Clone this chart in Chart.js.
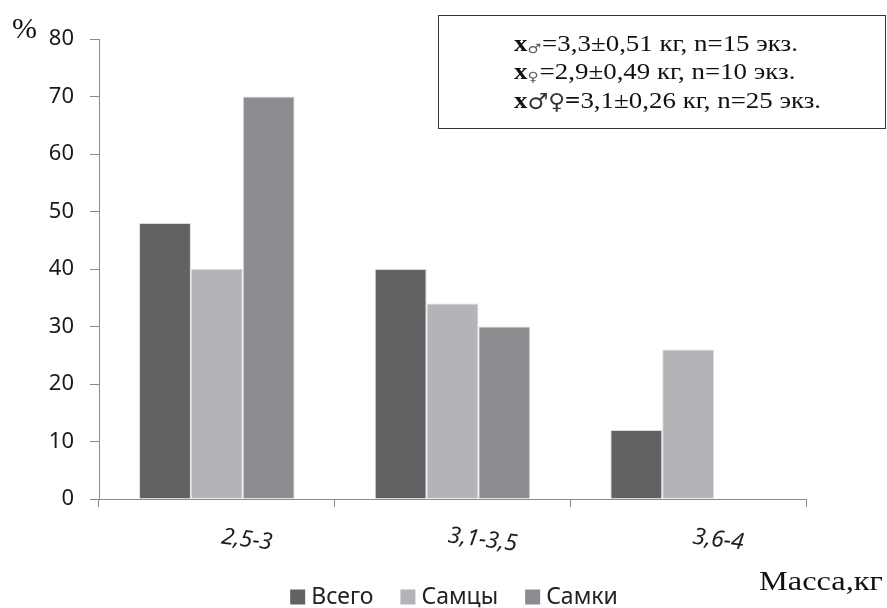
<!DOCTYPE html>
<html lang="ru">
<head>
<meta charset="utf-8">
<title>Распределение по массе</title>
<script src="https://cdn.jsdelivr.net/npm/chart.js@4/dist/chart.umd.min.js"></script>
<style>
  html, body { margin: 0; padding: 0; background: #fff; }
  #wrap { position: relative; width: 887px; height: 608px; }
</style>
</head>
<body>
<div id="wrap"><canvas id="massChart" width="887" height="608"></canvas></div>
<script>
'use strict';

// классы массы, кг
const massClasses = ['2,5-3', '3,1-3,5', '3,6-4'];

// доля особей, %
const totalPct   = [48, 40, 12];
const malesPct   = [40, 34, 26];
const femalesPct = [70, 30, null];

const yTicks = [0, 10, 20, 30, 40, 50, 60, 70, 80];

// строки со средней массой: [символ, остальное, символ мелкий]
const statLines = [
  ['♂', '=3,3±0,51 кг, n=15 экз.', true],
  ['♀', '=2,9±0,49 кг, n=10 экз.', true],
  ['♂♀', '=3,1±0,26 кг, n=25 экз.', false],
];

const AXIS_GREY = '#8a8a8a';
const SANS = '"Noto Sans", "DejaVu Sans", sans-serif';
const SERIF = '"Liberation Serif", "DejaVu Serif", serif';
const SYM = '"DejaVu Sans", sans-serif';
const STRETCH = 1.17;   // шрифт в рамке чуть растянут по ширине

// текст с растяжкой по горизонтали, возвращает ширину
function wideText(ctx, text, x, y, sx) {
  ctx.save();
  ctx.translate(x, y);
  ctx.scale(sx, 1);
  ctx.fillText(text, 0, 0);
  const w = ctx.measureText(text).width * sx;
  ctx.restore();
  return w;
}

/* ---------- подписи, рамка и легенда ---------- */
const extras = {
  id: 'extras',
  afterDraw(chart) {
    const ctx = chart.ctx;
    const xScale = chart.scales.x;
    ctx.save();

    // подписи классов — слегка наклонены
    ctx.fillStyle = '#1e1e1e';
    ctx.font = 'italic 23px ' + SANS;
    ctx.textAlign = 'center';
    ctx.textBaseline = 'middle';
    massClasses.forEach((lbl, i) => {
      const px = xScale.getPixelForValue(i) + 30;
      ctx.save();
      ctx.translate(px, 540);
      ctx.rotate(7 * Math.PI / 180);
      ctx.fillText(lbl, 0, 0);
      ctx.restore();
    });

    ctx.textAlign = 'left';
    ctx.textBaseline = 'alphabetic';
    ctx.fillStyle = '#111';

    // знак процента над осью
    ctx.font = '30px ' + SERIF;
    wideText(ctx, '%', 12, 38, 1.0);

    // подпись оси X
    ctx.font = '27px ' + SERIF;
    wideText(ctx, 'Масса,кг', 759, 590, 1.2);

    // рамка со статистикой
    ctx.strokeStyle = '#333';
    ctx.lineWidth = 1;
    ctx.strokeRect(438.5, 15.5, 447, 113);

    const baselines = [51, 79, 108];
    statLines.forEach((ln, i) => {
      let x = 514;
      const y = baselines[i];
      ctx.fillStyle = '#111';
      ctx.font = 'bold 23px ' + SERIF;
      x += wideText(ctx, 'x', x, y, STRETCH);
      if (ln[2]) {
        ctx.font = '13px ' + SYM;
        ctx.fillStyle = '#555';
        x += wideText(ctx, ln[0], x, y + 2, STRETCH) + 1;
        ctx.fillStyle = '#111';
        ctx.font = '23px ' + SERIF;
        wideText(ctx, ln[1], x, y, STRETCH);
      } else {
        ctx.font = '22px ' + SYM;
        ctx.fillStyle = '#333';
        x += wideText(ctx, ln[0], x, y + 1, 1.05);
        ctx.fillStyle = '#111';
        ctx.font = 'bold 23px ' + SERIF;
        x += wideText(ctx, '=', x, y, STRETCH);
        ctx.font = '23px ' + SERIF;
        wideText(ctx, ln[1].slice(1), x, y, STRETCH);
      }
    });

    // легенда
    ctx.font = '23px ' + SANS;
    const items = chart.data.datasets.map(ds => ({ label: ds.label, color: ds.backgroundColor }));
    const box = 15, gap = 6, spacing = 27;
    let total = 0;
    items.forEach((it, i) => {
      total += box + gap + ctx.measureText(it.label).width + (i < items.length - 1 ? spacing : 0);
    });
    let lx = 454 - total / 2;
    const ly = 597;
    ctx.textBaseline = 'middle';
    items.forEach(it => {
      ctx.fillStyle = it.color;
      ctx.fillRect(lx, ly - box / 2, box, box);
      lx += box + gap;
      ctx.fillStyle = '#222';
      ctx.fillText(it.label, lx, ly);
      lx += ctx.measureText(it.label).width + spacing;
    });

    ctx.restore();
  },
};

const barStyle = {
  borderWidth: 1,
  borderColor: 'rgba(215,215,215,0.9)',
  categoryPercentage: 0.66,
  barPercentage: 1.0,
};

new Chart(document.getElementById('massChart'), {
  type: 'bar',
  data: {
    labels: massClasses,
    datasets: [
      { label: 'Всего', data: totalPct, backgroundColor: '#626264', ...barStyle },
      { label: 'Самцы', data: malesPct, backgroundColor: '#b3b4b7', ...barStyle },
      { label: 'Самки', data: femalesPct, backgroundColor: '#8b8c8f', ...barStyle },
    ],
  },
  options: {
    responsive: false,
    animation: false,
    layout: { padding: { left: 0, right: 81, top: 39, bottom: 59 } },
    plugins: {
      legend: { display: false },
      tooltip: { enabled: false },
    },
    scales: {
      x: {
        afterFit(scale) { scale.height = 50; },
        grid: {
          offset: true,
          drawOnChartArea: false,
          tickLength: 8,
          color: AXIS_GREY,
        },
        border: { color: AXIS_GREY, width: 1 },
        ticks: { display: false },
      },
      y: {
        min: 0,
        max: 80,
        afterFit(scale) { scale.width = 99; },
        afterBuildTicks(scale) { scale.ticks = yTicks.map(v => ({ value: v })); },
        grid: {
          drawOnChartArea: false,
          tickLength: 9,
          color: AXIS_GREY,
        },
        border: { color: AXIS_GREY, width: 1 },
        ticks: {
          color: '#1a1a1a',
          font: { family: SANS, size: 22 },
          padding: 16,
        },
      },
    },
  },
  plugins: [extras],
});
</script>
</body>
</html>
